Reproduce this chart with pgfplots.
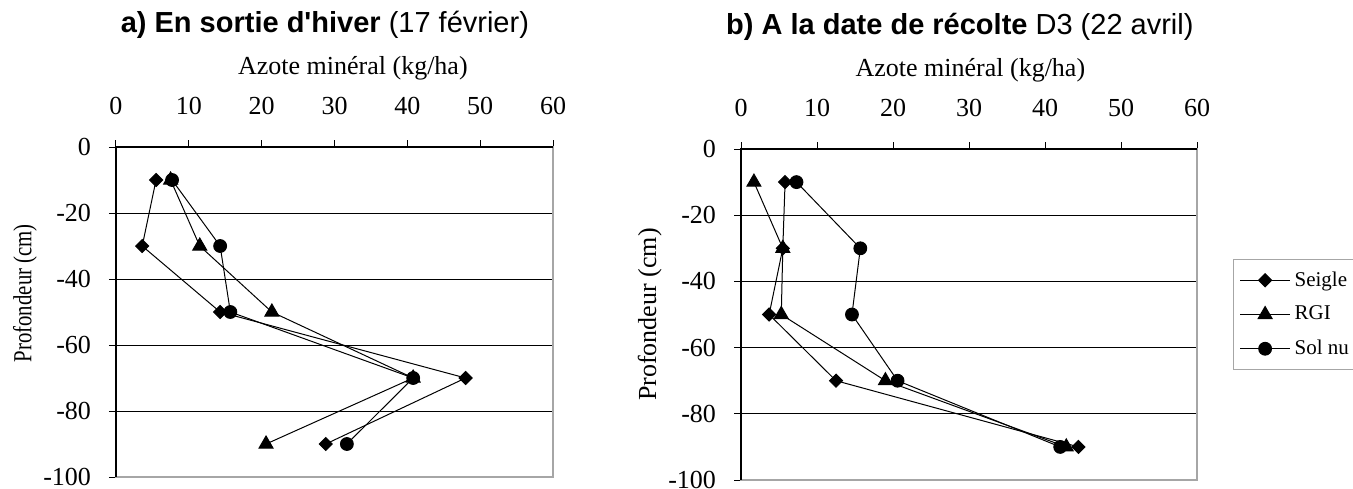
\documentclass[border=0pt]{standalone}
\usepackage{pgfplots}
\pgfplotsset{compat=1.18}
\usepackage{fontspec}
\setmainfont{Liberation Serif}
\newfontfamily\arial{Liberation Sans}
\newfontfamily\timesn[FakeStretch=0.8]{Liberation Serif}

\pgfplotsset{
  profil/.style={
    scale only axis,
    xmin=0, xmax=60, ymin=-100, ymax=0,
    xtick={0,10,...,60}, ytick={-100,-80,...,0},
    yticklabels={-100,-80,-60,-40,-20,0},
    xtick pos=upper, xticklabel pos=upper,
    ytick pos=left,
    tick align=outside, major tick length=3.5pt,
    tick style={black, line width=0.5pt},
    ymajorgrids, grid style={black, line width=0.5pt},
    axis line style={gray!70, line width=0.9pt},
    font=\fontsize{13}{15}\selectfont,
    xticklabel style={yshift=9pt},
    yticklabel style={xshift=-5.5pt},
    /pgf/number format/assume math mode=true,
    title style={font=\arial\fontsize{14.5}{17}\selectfont, anchor=center, yshift=55pt},
    xlabel style={anchor=center, yshift=39.5pt},
    ylabel style={anchor=center},
    every axis plot/.append style={black, line width=0.5pt},
    clip=false,
  },
  seigle/.style={mark=square*, mark size=2.3pt, mark options={rotate=45}},
  rgi/.style={mark=triangle*, mark size=4pt},
  solnu/.style={mark=*, mark size=3.2pt},
}

\begin{document}
\begin{tikzpicture}
\useasboundingbox (0,0) rectangle (676.5pt,-244pt);

% a) sortie d'hiver
\begin{axis}[profil,
    at={(58pt,-73.5pt)}, anchor=north west,
    width=218.5pt, height=165pt,
    title={\textbf{a) En sortie d\textquotesingle hiver} (17 février)},
    title style={at={(axis description cs:0.478,1)}},
    xlabel={Azote minéral (kg/ha)},
    xlabel style={at={(axis description cs:0.542,1)}},
    ylabel={\timesn Profondeur (cm)},
    ylabel style={at={(axis description cs:-0.208,0.557)}},
]
\addplot[seigle] coordinates {(5.5,-10) (3.6,-30) (14.3,-50) (48.0,-70) (28.8,-90)};
\addplot[rgi] coordinates {(7.5,-10) (11.5,-30) (21.4,-50) (40.8,-70) (20.6,-90)};
\addplot[solnu] coordinates {(7.7,-10) (14.3,-30) (15.7,-50) (40.8,-70) (31.7,-90)};
\draw[black, line width=0.9pt] (rel axis cs:0,0) -- (rel axis cs:0,1) -- (rel axis cs:1,1);
\end{axis}

% b) date de recolte
\begin{axis}[profil,
    at={(370.5pt,-74.5pt)}, anchor=north west,
    width=228pt, height=165.5pt,
    title={\textbf{b) A la date de récolte} D3 (22 avril)},
    title style={at={(axis description cs:0.48,1)}},
    xlabel={Azote minéral (kg/ha)},
    xlabel style={at={(axis description cs:0.503,1)}},
    ylabel={Profondeur (cm)},
    ylabel style={at={(axis description cs:-0.2,0.5)}},
    legend style={at={(axis description cs:1.079,0.668)}, anchor=north west,
      draw=gray!70, line width=0.6pt, font=\fontsize{10.5}{12}\selectfont,
      inner xsep=3pt, inner ysep=4pt, row sep=4.5pt, cells={anchor=west}},
    legend image code/.code={%
      \draw[mark repeat=2, mark phase=2, line width=0.5pt, #1]
        plot coordinates {(0pt,0pt) (12.5pt,0pt) (25pt,0pt)};},
]
\addplot[seigle] coordinates {(5.8,-10) (5.5,-30) (3.7,-50) (12.5,-70) (44.4,-90)};
\addlegendentry{Seigle}
\addplot[rgi] coordinates {(1.7,-10) (5.5,-30) (5.3,-50) (19.0,-70) (42.8,-90)};
\addlegendentry{RGI}
\addplot[solnu] coordinates {(7.3,-10) (15.7,-30) (14.6,-50) (20.6,-70) (42.0,-90)};
\addlegendentry{Sol nu}
\draw[black, line width=0.9pt] (rel axis cs:0,0) -- (rel axis cs:0,1) -- (rel axis cs:1,1);
\end{axis}
\end{tikzpicture}
\end{document}
